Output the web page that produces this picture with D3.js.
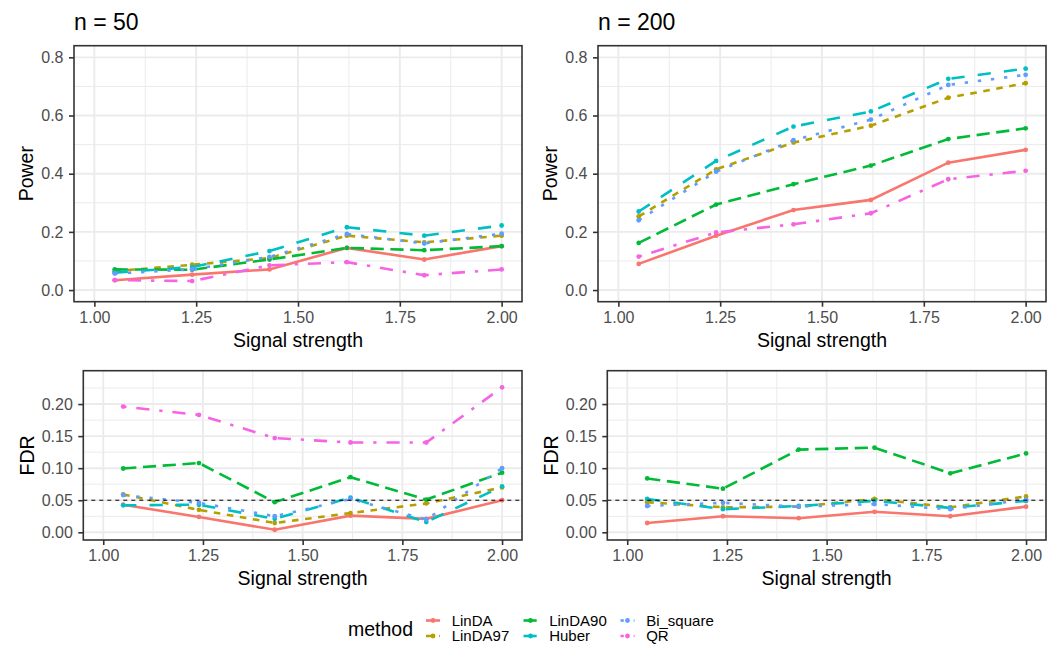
<!DOCTYPE html>
<html>
<head>
<meta charset="utf-8">
<script src="https://cdn.jsdelivr.net/npm/d3@7"></script>
<style>
  body { margin: 0; background: #fff; }
  text { font-family: "Liberation Sans", Arial, Helvetica, sans-serif; }
</style>
</head>
<body>
<div id="chart"></div>
<script>
// x values (signal strength) shared by every panel
var signal = [1.05, 1.24, 1.43, 1.62, 1.81, 2.00];
var methods = ["LinDA", "LinDA97", "LinDA90", "Huber", "Bi_square", "QR"];

// one row per method, same order as methods
var power50 = [
  [0.034, 0.053, 0.071, 0.145, 0.105, 0.151],
  [0.065, 0.087, 0.110, 0.187, 0.164, 0.187],
  [0.071, 0.070, 0.105, 0.145, 0.137, 0.151],
  [0.060, 0.079, 0.134, 0.216, 0.187, 0.222],
  [0.057, 0.071, 0.114, 0.193, 0.160, 0.194],
  [0.034, 0.031, 0.085, 0.096, 0.051, 0.071]
];
var power200 = [
  [0.090, 0.187, 0.275, 0.310, 0.438, 0.482],
  [0.253, 0.415, 0.507, 0.565, 0.661, 0.711],
  [0.162, 0.294, 0.364, 0.428, 0.519, 0.556],
  [0.270, 0.444, 0.562, 0.614, 0.726, 0.761],
  [0.240, 0.407, 0.515, 0.586, 0.705, 0.740],
  [0.115, 0.198, 0.226, 0.264, 0.381, 0.410]
];
var fdr50 = [
  [0.043, 0.024, 0.004, 0.026, 0.021, 0.050],
  [0.059, 0.035, 0.0145, 0.030, 0.045, 0.070],
  [0.0995, 0.108, 0.047, 0.086, 0.051, 0.093],
  [0.042, 0.043, 0.021, 0.054, 0.016, 0.0715],
  [0.058, 0.046, 0.025, 0.052, 0.020, 0.100],
  [0.196, 0.183, 0.147, 0.140, 0.140, 0.226]
];
// QR is off the 0-0.24 scale at n = 200, so nothing is drawn for it
var fdr200 = [
  [0.0145, 0.025, 0.022, 0.032, 0.025, 0.040],
  [0.047, 0.039, 0.040, 0.052, 0.039, 0.056],
  [0.084, 0.068, 0.129, 0.132, 0.092, 0.123],
  [0.052, 0.036, 0.041, 0.049, 0.038, 0.049],
  [0.041, 0.046, 0.040, 0.044, 0.036, 0.051],
  null
];

var xTicks = [1, 1.25, 1.5, 1.75, 2];
var xMinor = [1.125, 1.375, 1.625, 1.875];
var powerTicks = [0, 0.2, 0.4, 0.6, 0.8];
var powerMinor = [0.1, 0.3, 0.5, 0.7];
var fdrTicks = [0, 0.05, 0.10, 0.15, 0.20];
var fdrMinor = [0.025, 0.075, 0.125, 0.175, 0.225];
var fdrTarget = 0.05;

// ggplot default hues and linetypes
var colors = ["#F8766D", "#B79F00", "#00BA38", "#00BFC4", "#619CFF", "#F564E3"];
var u = 3.3;
var dashes = [null, [2*u, 2*u], [4*u, 2*u], [4*u, 4*u], [1*u, 3*u], [1*u, 3*u, 4*u, 3*u]];

var W = 1061, H = 646;
var svg = d3.select("#chart").append("svg")
  .attr("width", W)
  .attr("height", H);
svg.append("rect").attr("width", W).attr("height", H).attr("fill", "#fff");

function drawPanel(p) {
  var g = svg.append("g").attr("transform", `translate(${p.left}, ${p.top})`);
  var x = d3.scaleLinear().domain([0.95, 2.05]).range([0, p.width]);
  var y = d3.scaleLinear().domain(p.yDomain).range([p.height, 0]);

  g.append("rect").attr("width", p.width).attr("height", p.height).attr("fill", "#fff");

  // grid
  g.selectAll(".xminor").data(xMinor).enter().append("line")
    .attr("x1", d => x(d)).attr("x2", d => x(d)).attr("y1", 0).attr("y2", p.height)
    .attr("stroke", "#EBEBEB").attr("stroke-width", 1);
  g.selectAll(".yminor").data(p.yMinor).enter().append("line")
    .attr("x1", 0).attr("x2", p.width).attr("y1", d => y(d)).attr("y2", d => y(d))
    .attr("stroke", "#EBEBEB").attr("stroke-width", 1);
  g.selectAll(".xmajor").data(xTicks).enter().append("line")
    .attr("x1", d => x(d)).attr("x2", d => x(d)).attr("y1", 0).attr("y2", p.height)
    .attr("stroke", "#EBEBEB").attr("stroke-width", 1.9);
  g.selectAll(".ymajor").data(p.yTicks).enter().append("line")
    .attr("x1", 0).attr("x2", p.width).attr("y1", d => y(d)).attr("y2", d => y(d))
    .attr("stroke", "#EBEBEB").attr("stroke-width", 1.9);

  var line = d3.line().x((d, i) => x(signal[i])).y(d => y(d));
  p.rows.forEach(function(row, m) {
    if (!row) return;
    g.append("path").datum(row)
      .attr("d", line)
      .attr("fill", "none")
      .attr("stroke", colors[m])
      .attr("stroke-width", 2.6)
      .attr("stroke-dasharray", dashes[m] ? dashes[m].join(",") : null);
  });
  p.rows.forEach(function(row, m) {
    if (!row) return;
    g.selectAll(null).data(row).enter().append("circle")
      .attr("cx", (d, i) => x(signal[i]))
      .attr("cy", d => y(d))
      .attr("r", 2.4)
      .attr("fill", colors[m]);
  });

  if (p.hline != null) {
    g.append("line")
      .attr("x1", 0).attr("x2", p.width)
      .attr("y1", y(p.hline)).attr("y2", y(p.hline))
      .attr("stroke", "#000").attr("stroke-width", 1)
      .attr("stroke-dasharray", "4,4");
  }

  g.append("rect").attr("width", p.width).attr("height", p.height)
    .attr("fill", "none").attr("stroke", "#333333").attr("stroke-width", 1.6);

  // axes
  var xAxis = g.append("g")
    .attr("transform", `translate(0, ${p.height})`)
    .call(d3.axisBottom(x).tickValues(xTicks).tickSize(5).tickPadding(5)
      .tickFormat(d3.format(".2f")));
  var yAxis = g.append("g")
    .call(d3.axisLeft(y).tickValues(p.yTicks).tickSize(5).tickPadding(5.5)
      .tickFormat(d3.format(p.yFmt)));
  [xAxis, yAxis].forEach(function(a) {
    a.select(".domain").remove();
    a.selectAll(".tick line").attr("stroke", "#333333").attr("stroke-width", 1.6);
    a.selectAll(".tick text").attr("fill", "#4D4D4D")
      .style("font-size", "16px").style("font-family", "'Liberation Sans', Arial, sans-serif");
  });

  g.append("text")
    .attr("x", p.width / 2)
    .attr("y", p.height + 45)
    .attr("text-anchor", "middle")
    .style("font-size", "19.5px")
    .attr("fill", "#000")
    .text("Signal strength");

  svg.append("text")
    .attr("transform", `translate(${p.ylabX}, ${p.top + p.height / 2}) rotate(-90)`)
    .attr("dy", "0.36em")
    .attr("text-anchor", "middle")
    .style("font-size", "19.5px")
    .attr("fill", "#000")
    .text(p.ylab);

  if (p.title) {
    svg.append("text")
      .attr("x", p.left)
      .attr("y", 30)
      .style("font-size", "23px")
      .attr("fill", "#000")
      .text(p.title);
  }
}

var topTop = 45.7, topH = 256;
var botTop = 370.7, botH = 169.3;
var colShift = 524;

drawPanel({left: 74, top: topTop, width: 448, height: topH, yDomain: [-0.04, 0.84],
  yTicks: powerTicks, yMinor: powerMinor, yFmt: ".1f", rows: power50,
  ylab: "Power", ylabX: 26, title: "n = 50"});
drawPanel({left: 74 + colShift, top: topTop, width: 448, height: topH, yDomain: [-0.04, 0.84],
  yTicks: powerTicks, yMinor: powerMinor, yFmt: ".1f", rows: power200,
  ylab: "Power", ylabX: 26 + colShift, title: "n = 200"});
drawPanel({left: 83.3, top: botTop, width: 438.7, height: botH, yDomain: [-0.012, 0.252],
  yTicks: fdrTicks, yMinor: fdrMinor, yFmt: ".2f", rows: fdr50,
  ylab: "FDR", ylabX: 26.7, hline: fdrTarget});
drawPanel({left: 83.3 + colShift, top: botTop, width: 438.7, height: botH, yDomain: [-0.012, 0.252],
  yTicks: fdrTicks, yMinor: fdrMinor, yFmt: ".2f", rows: fdr200,
  ylab: "FDR", ylabX: 26.7 + colShift, hline: fdrTarget});

// legend, filled column by column in two rows
var legend = svg.append("g");
legend.append("text")
  .attr("x", 348).attr("y", 636)
  .style("font-size", "19.5px")
  .attr("fill", "#000")
  .text("method");
var colX = [433, 530.5, 627.5];
var rowY = [620.5, 636];
methods.forEach(function(name, m) {
  var cx = colX[Math.floor(m / 2)], cy = rowY[m % 2];
  legend.append("line")
    .attr("x1", cx - 7).attr("x2", cx + 7).attr("y1", cy).attr("y2", cy)
    .attr("stroke", colors[m]).attr("stroke-width", 2.6)
    .attr("stroke-dasharray", dashes[m] ? dashes[m].join(",") : null);
  legend.append("circle").attr("cx", cx).attr("cy", cy).attr("r", 2.4).attr("fill", colors[m]);
  legend.append("text")
    .attr("x", cx + 18.7).attr("y", cy + 5.4)
    .style("font-size", "15px")
    .attr("fill", "#000")
    .text(name);
});
</script>
</body>
</html>
